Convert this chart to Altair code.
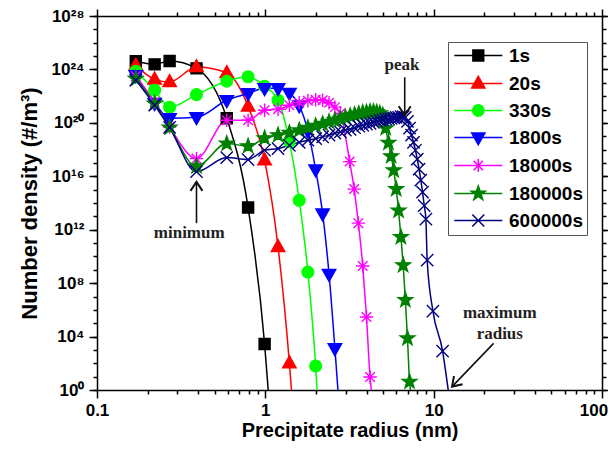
import altair as alt
import pandas as pd

SERIES = ["1s", "20s", "330s", "1800s", "18000s", "180000s", "600000s"]
COLORS = ["#000000", "#ff0000", "#00ff00", "#0000ff", "#ff00ff", "#008000", "#000080"]

# ---- data (radius in nm, number density in #/m^3) ----
r_1s = [0.17, 0.22, 0.27, 0.39, 0.59, 0.79, 0.99]
n_1s = [4.1e24, 2.4e24, 4.3e24, 1.2e24, 2.2e20, 4.6e13, 2.8e3]
end_1s = [1.04, 1.0]

r_20s = [0.17, 0.22, 0.27, 0.39, 0.59, 0.79, 0.99, 1.19, 1.39]
n_20s = [2.0e24, 1.8e23, 1.15e23, 1.5e24, 5.4e23, 1.7e21, 1.6e17, 5.2e10, 1.0e2]
end_20s = [1.43, 1.0]

r_330s = [0.17, 0.22, 0.27, 0.39, 0.59, 0.79, 0.99, 1.19, 1.39, 1.59, 1.79, 1.99]
n_330s = [7.2e23, 2.8e22, 1.5e21, 1.3e22, 1.3e23, 2.8e23, 5.5e22, 5.0e21, 4.0e18, 1.6e14, 6.8e8, 63]
end_330s = [2.03, 1.0]

r_1800s = [0.17, 0.22, 0.27, 0.39, 0.59, 0.79, 0.99, 1.19, 1.39, 1.59, 1.79, 1.99, 2.19, 2.39, 2.59]
n_1800s = [3.6e23, 3.0e21, 2.2e20, 2.6e20, 4.9e21, 1.6e22, 3.9e22, 3.9e22, 1.7e22, 2.0e21, 2.5e19,
           3.2e16, 1.6e13, 4.8e8, 1.3e3]
end_1800s = [2.70, 1.0]

r_18000s = [0.17, 0.22, 0.27, 0.39, 0.59, 0.79, 0.99, 1.19, 1.39, 1.59, 1.79, 1.99, 2.19, 2.39,
            2.59, 2.79, 3.17, 3.37, 3.57, 3.79, 3.99, 4.19]
n_18000s = [3.2e23, 3.6e21, 4.9e19, 2.1e17, 1.55e20, 1.55e20, 8.7e20, 1.05e21, 2.1e21, 3.2e21,
            4.5e21, 5.4e21, 4.9e21, 3.2e21, 1.5e21, 5.2e20, 1.26e17, 1.1e15, 3.1e12, 1.9e9, 2.9e5, 9.3]
end_18000s = [4.26, 1.0]

r_180000s = [0.17, 0.22, 0.27, 0.39, 0.59, 0.79, 0.99, 1.19, 1.39, 1.59, 1.79, 1.99, 2.19, 2.39,
             2.59, 2.79, 2.99, 3.19, 3.39, 3.59, 3.79, 3.99, 4.19, 4.39, 4.59, 4.79, 4.99, 5.19,
             5.39, 5.59, 5.79, 5.99, 6.19, 6.39, 6.59, 6.79, 6.99, 7.19]
n_180000s = [2.0e23, 2.8e21, 4.5e19, 5.6e16, 2.8e18, 1.8e18, 7.1e18, 1.2e19, 1.8e19, 2.8e19,
             4.3e19, 6.0e19, 8.5e19, 1.2e20, 1.55e20, 2.0e20, 2.6e20, 3.4e20, 4.1e20, 4.8e20,
             5.8e20, 6.2e20, 6.8e20, 6.8e20, 6.2e20, 5.2e20, 3.7e20, 4.0e19, 3.2e18, 3.2e17,
             2.8e16, 1.1e15, 2.7e13, 2.8e11, 2.2e9, 5.4e6, 7.4e3, 4.2]
end_180000s = [7.28, 1.0]

r_600000s = [0.17, 0.22, 0.27, 0.39, 0.59, 0.79, 0.99, 1.19, 1.39, 1.59, 1.79, 1.99, 2.19, 2.39,
             2.59, 2.79, 2.99, 3.19, 3.39, 3.59, 3.79, 3.99, 4.19, 4.39, 4.59, 4.79, 4.99, 5.19,
             5.39, 5.59, 5.79, 5.99, 6.19, 6.39, 6.59, 6.79, 6.99, 7.19, 7.39, 7.59, 7.79, 7.99,
             8.19, 8.39, 8.59, 8.79, 8.99, 9.15, 9.9, 11.3]
n_600000s = [1.6e23, 2.1e21, 4.5e19, 2.2e16, 2.5e17, 1.8e17, 8.9e17, 1.2e18, 2.1e18, 3.5e18,
             5.0e18, 6.5e18, 9.1e18, 1.2e19, 1.7e19, 2.1e19, 2.8e19, 3.3e19, 4.3e19, 5.6e19,
             6.6e19, 7.9e19, 9.3e19, 1.1e20, 1.3e20, 1.55e20, 1.7e20, 1.9e20, 2.0e20, 2.2e20,
             2.4e20, 2.6e20, 2.6e20, 2.9e20, 2.9e20, 2.6e20, 1.3e20, 4.0e19, 1.2e19, 3.5e18,
             8.9e17, 1.9e17, 3.4e16, 5.1e15, 6.5e14, 6.3e13, 6.2e12, 5.2e9, 8.1e5, 8.3e2]
end_600000s = [12.2, 1.0]

X_MAJOR = [0.1, 1, 10, 100]
X_MINOR = [0.2, 0.3, 0.4, 0.5, 0.6, 0.7, 0.8, 0.9, 2, 3, 4, 5, 6, 7, 8, 9,
           20, 30, 40, 50, 60, 70, 80, 90]
Y_MAJOR = [1e0, 1e4, 1e8, 1e12, 1e16, 1e20, 1e24, 1e28]
Y_MINOR = [10.0 ** k for k in range(0, 29)]

# annotations
ann_arrow_x = [0.39, 6.73, 22.7]
ann_arrow_y = [3.1e12, 2.6e23, 3.1e3]
ann_tip_x = [0.39, 6.73, 12.86]
ann_tip_y = [3.8e15, 3.7e20, 1.8]
ann_tip_angle = [0, 180, 224]
ann_text = ["minimum", "peak", "maximum", "radius"]
ann_text_x = [0.353, 6.49, 24.7, 24.7]
ann_text_y = [5.5e11, 2.0e24, 5.5e5, 1.55e4]

# ---- tables ----
all_r = [r_1s, r_20s, r_330s, r_1800s, r_18000s, r_180000s, r_600000s]
all_n = [n_1s, n_20s, n_330s, n_1800s, n_18000s, n_180000s, n_600000s]
all_end = [end_1s, end_20s, end_330s, end_1800s, end_18000s, end_180000s, end_600000s]
rows = []
for name, rs, ns, end in zip(SERIES, all_r, all_n, all_end):
    for r, n in zip(rs, ns):
        rows.append({"series": name, "r": r, "n": n, "marker": True})
    rows.append({"series": name, "r": end[0], "n": end[1], "marker": False})
df = pd.DataFrame(rows)

arrows = pd.DataFrame({"x": ann_arrow_x, "y": ann_arrow_y, "x2": ann_tip_x, "y2": ann_tip_y})
tips = pd.DataFrame({"x": ann_tip_x, "y": ann_tip_y, "a": ann_tip_angle})
texts = pd.DataFrame({"x": ann_text_x, "y": ann_text_y, "t": ann_text})

# marker shapes
SQ = "M-0.9,-0.9H0.9V0.9H-0.9Z"
TU = "M0,-1.2L1.1,0.75L-1.1,0.75Z"
CI = "M0.95,0A0.95,0.95,0,1,1,-0.95,0A0.95,0.95,0,1,1,0.95,0Z"
TD = "M0,1.2L1.1,-0.75L-1.1,-0.75Z"
AS = "M0,-1.1V1.1M-1.1,0H1.1M-0.78,-0.78L0.78,0.78M-0.78,0.78L0.78,-0.78"
ST = ("M0,-1.25L0.294,-0.405L1.189,-0.386L0.476,0.155L0.735,1.011L0,0.5L-0.735,1.011"
      "L-0.476,0.155L-1.189,-0.386L-0.294,-0.405Z")
XX = "M-1,-1L1,1M-1,1L1,-1"
SHAPES = [SQ, TU, CI, TD, AS, ST, XX]

LN = "M-1.2,0H6.8"
LEG_SHAPES = [
    LN + "M1.9,-0.9H3.7V0.9H1.9Z",
    LN + "M2.8,-1.2L3.9,0.75L1.7,0.75Z",
    LN + "M3.75,0A0.95,0.95,0,1,1,1.85,0A0.95,0.95,0,1,1,3.75,0Z",
    LN + "M2.8,1.2L3.9,-0.75L1.7,-0.75Z",
    LN + "M2.8,-1.1V1.1M1.7,0H3.9M2.02,-0.78L3.58,0.78M2.02,0.78L3.58,-0.78",
    LN + ("M2.8,-1.25L3.094,-0.405L3.989,-0.386L3.276,0.155L3.535,1.011L2.8,0.5L2.065,1.011"
          "L2.324,0.155L1.611,-0.386L2.506,-0.405Z"),
    LN + "M1.8,-1L3.8,1M1.8,1L3.8,-1",
]

FONT = "Liberation Sans"
xs = alt.Scale(type="log", domain=[0.1, 100], nice=False)
ys = alt.Scale(type="log", domain=[1, 1e28], nice=False)

common = dict(grid=False, domainColor="black", tickColor="black", domainWidth=1.5,
              tickWidth=1.5, labelColor="black")

ax_bottom = alt.Axis(orient="bottom", values=X_MAJOR, format="~g", tickSize=8,
                     labelFont=FONT, labelFontSize=17, labelFontWeight="bold", labelPadding=4,
                     labelFlush=False,
                     labelOffset={"condition": {"test": "datum.value >= 100", "value": -8.5},
                                  "value": 0},
                     title="Precipitate radius (nm)", titleFont=FONT,
                     titleFontSize=20, titleFontWeight="bold", titleColor="black",
                     titlePadding=2, **common)
ax_left = alt.Axis(orient="left", values=Y_MAJOR, tickSize=8,
                   labelExpr="'10' + ['\u2070','\u2074','\u2078','\u00b9\u00b2','\u00b9\u2076',"
                             "'\u00b2\u2070','\u00b2\u2074','\u00b2\u2078']"
                             "[round(log(datum.value) / LN10 / 4)]",
                   labelFont=FONT, labelFontSize=17, labelFontWeight="bold", labelPadding=5,
                   labelFlush=False, title="Number density (#/m\u00b3)", titleFont=FONT,
                   titleFontSize=22, titleFontWeight="bold", titleColor="black",
                   titlePadding=10, **common)
ax_bottom_minor = alt.Axis(orient="bottom", values=X_MINOR, tickSize=4, labels=False,
                           domain=False, title=None, **common)
ax_left_minor = alt.Axis(orient="left", values=Y_MINOR, tickSize=4, labels=False,
                         domain=False, title=None, **common)
ax_top = alt.Axis(orient="top", values=X_MAJOR, tickSize=7, labels=False, title=None, **common)
ax_right = alt.Axis(orient="right", values=Y_MAJOR, tickSize=7, labels=False, title=None, **common)
ax_top_minor = alt.Axis(orient="top", values=X_MINOR, tickSize=4, labels=False, domain=False,
                        title=None, **common)
ax_right_minor = alt.Axis(orient="right", values=Y_MINOR, tickSize=4, labels=False,
                          domain=False, title=None, **common)

color_scale = alt.Scale(domain=SERIES, range=COLORS)

lines = alt.Chart(df).mark_line(strokeWidth=1.5, interpolate="monotone").encode(
    x=alt.X("r:Q", scale=xs, axis=ax_bottom),
    y=alt.Y("n:Q", scale=ys, axis=ax_left),
    color=alt.Color("series:N", scale=color_scale, legend=None),
)

points = alt.Chart(df).transform_filter("datum.marker").mark_point(
    filled=True, opacity=1, size=150, strokeWidth=1.4
).encode(
    x=alt.X("r:Q", scale=xs, axis=ax_bottom_minor),
    y=alt.Y("n:Q", scale=ys, axis=ax_left_minor),
    fill=alt.Fill("series:N", scale=color_scale, legend=None),
    stroke=alt.Stroke("series:N", scale=color_scale, legend=None),
    shape=alt.Shape("series:N", scale=alt.Scale(domain=SERIES, range=SHAPES), legend=None),
)

leg = alt.Legend(title=None, orient="none", legendX=351, legendY=26, direction="vertical",
                 labelFont=FONT, labelFontSize=19, labelFontWeight="bold", labelColor="black",
                 labelOffset=38, symbolSize=144, symbolStrokeWidth=1.5, rowPadding=7,
                 padding=4, strokeColor="#555555", fillColor="white", labelLimit=300)

legend_layer = alt.Chart(df).transform_filter("false").mark_point(
    filled=True, opacity=1
).encode(
    x=alt.X("r:Q", scale=xs, axis=None),
    y=alt.Y("n:Q", scale=ys, axis=None),
    fill=alt.Fill("series:N", scale=alt.Scale(domain=SERIES, range=COLORS), legend=leg),
    stroke=alt.Stroke("series:N", scale=alt.Scale(domain=SERIES, range=COLORS), legend=leg),
    shape=alt.Shape("series:N", scale=alt.Scale(domain=SERIES, range=LEG_SHAPES), legend=leg),
)

rules = alt.Chart(arrows).mark_rule(color="#111111", strokeWidth=1.6).encode(
    x=alt.X("x:Q", scale=xs, axis=ax_top),
    y=alt.Y("y:Q", scale=ys, axis=ax_right),
    x2="x2:Q",
    y2="y2:Q",
)

heads = alt.Chart(tips).mark_point(
    shape="M-1,1.5L0,0L1,1.5", filled=False, opacity=1, size=144, strokeWidth=2,
    color="#111111"
).encode(
    x=alt.X("x:Q", scale=xs, axis=ax_top_minor),
    y=alt.Y("y:Q", scale=ys, axis=ax_right_minor),
    angle=alt.Angle("a:Q", scale=None),
)

labels = alt.Chart(texts).mark_text(
    font="Liberation Serif", fontWeight="bold", fontSize=17, color="#222222"
).encode(
    x=alt.X("x:Q", scale=xs, axis=None),
    y=alt.Y("y:Q", scale=ys, axis=None),
    text="t:N",
)

chart = alt.layer(lines, points, legend_layer, rules, heads, labels).resolve_scale(
    fill="independent", stroke="independent", shape="independent"
).resolve_axis(
    x="independent", y="independent"
).properties(
    width=505, height=374,
    padding={"left": 89, "top": 8, "right": 6, "bottom": 55},
    autosize=alt.AutoSizeParams(type="none"),
).configure_view(stroke=None)

chart.save("out.html", embed_options={"renderer": "svg", "actions": False})
